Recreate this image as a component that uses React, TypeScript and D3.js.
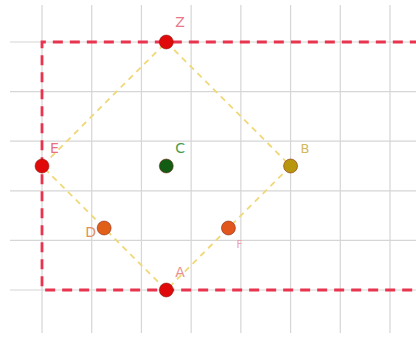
import React from "react";
import * as d3 from "d3";

const pointNames = ["Z", "A", "E", "B", "C", "D", "F"];
const pointX = [2.5, 2.5, 0, 5, 2.5, 1.25, 3.75];
const pointY = [5, 0, 2.5, 2.5, 2.5, 1.25, 1.25];
const pointFill = ["#e00a0a", "#e00a0a", "#e00a0a", "#b8960e", "#135c13", "#e0601a", "#e0561c"];
const labelColor = ["#e87888", "#e89090", "#e87080", "#d4b860", "#4a9a4a", "#e09060", "#f0a0a8"];
const labelDx = [9, 9, 8, 10, 9, -19, 8];
const labelDy = [-15, -13, -13, -13, -13, 9, 20];
const labelSize = [14, 14, 14, 13, 14, 14, 10];

const diamond = ["Z", "B", "A", "E", "Z"];
const gridXs = [0, 1, 2, 3, 4, 5, 6, 7];
const gridYs = [0, 1, 2, 3, 4, 5];

export default function App() {
  const W = 416, H = 337;
  const x = d3.scaleLinear().domain([0, 7]).range([42, 390]);
  const y = d3.scaleLinear().domain([0, 5]).range([290, 42]);
  const idx = (n: string) => pointNames.indexOf(n);
  const diamondPath = d3.line<string>()
    .x((n) => x(pointX[idx(n)]))
    .y((n) => y(pointY[idx(n)]))(diamond) || "";
  const rectPath = d3.line<[number, number]>()
    .x((d) => x(d[0]))
    .y((d) => y(d[1]))([[7.6, 5], [0, 5], [0, 0], [7.6, 0]]) || "";
  return (
    <svg width={W} height={H} style={{ position: "absolute", left: 0, top: 0, background: "#fff" }}
      fontFamily="DejaVu Sans, sans-serif">
      {gridXs.map((g) => (
        <line key={"gx" + g} x1={x(g)} x2={x(g)} y1={5} y2={333} stroke="#d6d6d6" strokeWidth={1.2} />
      ))}
      {gridYs.map((g) => (
        <line key={"gy" + g} x1={10} x2={W} y1={y(g)} y2={y(g)} stroke="#d6d6d6" strokeWidth={1.2} />
      ))}
      <path d={diamondPath} fill="none" stroke="#f0d878" strokeWidth={1.8} strokeDasharray="6,5" />
      <path d={rectPath} fill="none" stroke="#e8344e" strokeWidth={2.8} strokeDasharray="10,7" />
      {pointNames.map((n, i) => (
        <g key={n}>
          <circle cx={x(pointX[i])} cy={y(pointY[i])} r={7} fill={pointFill[i]}
            stroke="#7a1a10" strokeOpacity={0.5} strokeWidth={1} />
          <text x={x(pointX[i]) + labelDx[i]} y={y(pointY[i]) + labelDy[i]} fill={labelColor[i]}
            fontSize={labelSize[i]}>{n}</text>
        </g>
      ))}
    </svg>
  );
}
